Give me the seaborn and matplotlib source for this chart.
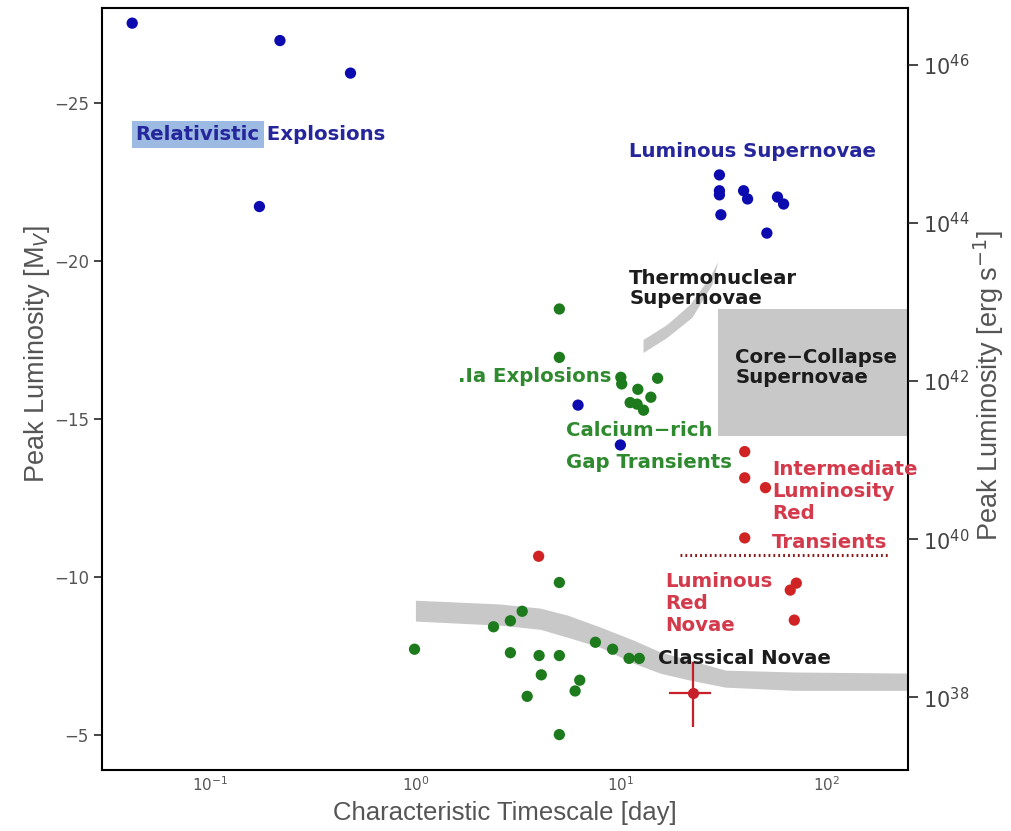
import numpy as np
import pandas as pd
import matplotlib
matplotlib.use("Agg")
import matplotlib.pyplot as plt
import seaborn as sns
from matplotlib.ticker import LogLocator, NullFormatter, NullLocator, FixedLocator, LogFormatterMathtext

# ---- data: characteristic timescale [day] and peak magnitude M_V ----
rel_t = [0.0418, 0.219, 0.483, 0.174]
rel_m = [-27.52, -26.97, -25.94, -21.72]

lsn_t = [30.2, 30.2, 30.2, 30.7, 39.6, 41.4, 57.9, 62.0, 51.4]
lsn_m = [-22.72, -22.22, -22.09, -21.46, -22.22, -21.96, -22.02, -21.80, -20.88]

fast_blue_t = [6.19, 9.95]
fast_blue_m = [-15.44, -14.18]

ia_t = [5.02, 5.02, 10.0, 10.1, 12.1, 15.1, 14.0, 11.1, 12.0, 12.9]
ia_m = [-18.48, -16.95, -16.32, -16.11, -15.94, -16.29, -15.69, -15.52, -15.47, -15.28]

nova_t = [5.02, 3.31, 2.90, 2.40, 0.99, 2.90, 4.0, 5.02, 4.10, 3.50, 6.31, 5.99,
          5.02, 7.52, 9.12, 10.97, 12.3]
nova_m = [-9.83, -8.92, -8.62, -8.43, -7.72, -7.61, -7.52, -7.52, -6.91, -6.23, -6.74,
          -6.40, -5.02, -7.94, -7.72, -7.43, -7.43]

ilrt_t = [40.1, 40.1, 50.6, 40.1]
ilrt_m = [-13.97, -13.14, -12.83, -11.24]

lrn_t = [3.98, 71.5, 66.8, 69.9]
lrn_m = [-10.66, -9.81, -9.59, -8.64]

# new transient with asymmetric uncertainties
new_t, new_t_lo, new_t_hi = 22.4, 17.2, 27.6
new_m, new_m_lo, new_m_hi = -6.33, -7.31, -5.25

# classical novae locus (upper/lower edge)
band_t = [1.0, 2.59, 4.05, 5.49, 7.95, 11.5, 15.6, 21.8, 32.3, 69.6, 300.0]
band_top = [-9.27, -9.15, -9.02, -8.80, -8.42, -8.01, -7.63, -7.37, -7.06, -7.00, -6.96]
band_bot = [-8.61, -8.48, -8.35, -8.10, -7.78, -7.28, -6.96, -6.74, -6.52, -6.42, -6.42]

# thermonuclear supernovae locus (outline)
thermo_t = [12.9, 16.8, 21.8, 27.3, 29.8, 27.9, 22.3, 16.8, 12.9]
thermo_m = [-17.50, -17.97, -18.61, -19.49, -19.97, -19.24, -18.20, -17.56, -17.09]

# core-collapse supernovae region
cc_t = [29.8, 400.0]
cc_m = [-18.48, -14.46]

# ILRT / LRN divider
div_t = [19.5, 200.0]
div_m = -10.70

xlim = (0.0298, 250.0)
ylim = (-3.9, -28.0)

BLUE, GREEN, RED = "#0b0bb0", "#1d7a1d", "#d02424"
BLUE_T, GREEN_T, RED_T, BLACK_T = "#26269c", "#2f8a2f", "#d33a4c", "#1c1c1c"
GRAY = "#c8c8c8"

frames = []
for name, t, m in [("blue", rel_t + lsn_t + fast_blue_t, rel_m + lsn_m + fast_blue_m),
                   ("green", ia_t + nova_t, ia_m + nova_m),
                   ("red", ilrt_t + lrn_t, ilrt_m + lrn_m)]:
    frames.append(pd.DataFrame({"t": t, "mag": m, "cls": name}))
df = pd.concat(frames, ignore_index=True)

sns.set_theme(style="white")
plt.rcParams["font.family"] = ["DejaVu Sans"]

fig = plt.figure(figsize=(10.11, 8.31), dpi=100)
ax = fig.add_axes([0.1009, 0.0734, 0.7972, 0.9170])

ax.set_xscale("log")
ax.set_xlim(*xlim)
ax.set_ylim(*ylim)

# shaded loci
ax.fill_between(band_t, band_top, band_bot, color=GRAY, lw=0, zorder=1)
ax.fill(thermo_t, thermo_m, color=GRAY, lw=0, zorder=1)
ax.fill_between(cc_t, cc_m[0], cc_m[1], color=GRAY, lw=0, zorder=1)

# divider between ILRT and LRN
ax.plot(div_t, [div_m, div_m], color="#8c1a1a", lw=2.2, ls=(0, (0.6, 1.0)), zorder=2)

sns.scatterplot(data=df, x="t", y="mag", hue="cls",
                palette={"blue": BLUE, "green": GREEN, "red": RED},
                s=66, edgecolor="none", legend=False, ax=ax, zorder=4)

ax.errorbar([new_t], [new_m],
            xerr=[[new_t - new_t_lo], [new_t_hi - new_t]],
            yerr=[[new_m - new_m_lo], [new_m_hi - new_m]],
            fmt="o", color="#c8202a", ms=7, elinewidth=1.6, capsize=0, zorder=5)

FS = 14.2
tkw = dict(fontsize=FS, fontweight="bold", va="center", ha="left", zorder=6)
t1 = ax.text(0.0434, -23.99, "Relativistic", color=BLUE_T,
             bbox=dict(boxstyle="square,pad=0.2", fc="#9dbae3", ec="none"), **tkw)
ax.annotate(" Explosions", xy=(1, 0.5), xycoords=t1, color=BLUE_T,
            fontsize=FS, fontweight="bold", va="center", ha="left", zorder=6)
ax.text(11.0, -23.45, "Luminous Supernovae", color=BLUE_T, **tkw)
ax.text(11.0, -19.13, "Thermonuclear\nSupernovae", color=BLACK_T, linespacing=1.12, **tkw)
ax.text(36.1, -16.63, "Core\u2212Collapse\nSupernovae", color=BLACK_T, linespacing=1.12, **tkw)
ax.text(1.62, -16.33, ".Ia Explosions", color=GREEN_T, **tkw)
ax.text(5.43, -14.65, "Calcium\u2212rich", color=GREEN_T, **tkw)
ax.text(5.43, -13.64, "Gap Transients", color=GREEN_T, **tkw)
ax.text(54.6, -12.71, "Intermediate\nLuminosity\nRed", color=RED_T, linespacing=1.2, **tkw)
ax.text(54.6, -11.11, "Transients", color=RED_T, **tkw)
ax.text(16.5, -9.18, "Luminous\nRed\nNovae", color=RED_T, linespacing=1.2, **tkw)
ax.text(15.1, -7.44, "Classical Novae", color=BLACK_T, **tkw)

# axes styling
for sp in ax.spines.values():
    sp.set_color("black")
    sp.set_linewidth(1.5)

ax.xaxis.set_major_locator(LogLocator(base=10))
ax.xaxis.set_minor_locator(LogLocator(base=10, subs=np.arange(2, 10)))
ax.xaxis.set_minor_formatter(NullFormatter())
ax.tick_params(axis="x", which="major", direction="in", length=8, width=1.2,
               labelsize=11, labelcolor="#555555", pad=4, top=False)
ax.tick_params(axis="x", which="minor", direction="in", length=5, width=1.0, top=False)

ax.yaxis.set_major_locator(FixedLocator([-25, -20, -15, -10, -5]))
ax.yaxis.set_minor_locator(NullLocator())
ax.tick_params(axis="y", which="major", direction="out", length=6, width=1.2,
               labelsize=12, labelcolor="#555555", left=True, right=False)

lab_font = dict(family=["Liberation Sans", "DejaVu Sans"], color="#555555")
ax.set_xlabel("Characteristic Timescale [day]", fontsize=18.5, **lab_font)
ax.set_ylabel("Peak Luminosity [M$_V$]", fontsize=19.5, **lab_font)
ax.xaxis.set_label_coords(0.5, -0.041)
ax.yaxis.set_label_coords(-0.062, 0.546)

# right axis: peak luminosity in erg/s
def mag_to_lum(m):
    return 10 ** (38.0 + (-6.2 - m) / 2.5)

ax2 = ax.twinx()
ax2.set_yscale("log")
ax2.set_ylim(mag_to_lum(ylim[0]), mag_to_lum(ylim[1]))
ax2.yaxis.set_major_locator(FixedLocator([1e38, 1e40, 1e42, 1e44, 1e46]))
ax2.yaxis.set_major_formatter(LogFormatterMathtext())
ax2.yaxis.set_minor_locator(NullLocator())
ax2.tick_params(axis="y", which="major", direction="out", length=7, width=1.2,
                labelsize=15, labelcolor="#444444")
for sp in ax2.spines.values():
    sp.set_visible(False)
ax2.set_ylabel("Peak Luminosity [erg s$^{-1}$]", fontsize=19.5, **lab_font)
ax2.yaxis.set_label_coords(1.079, 0.505)
ax2.grid(False)
ax.grid(False)

fig.savefig("out.png", dpi=100)
